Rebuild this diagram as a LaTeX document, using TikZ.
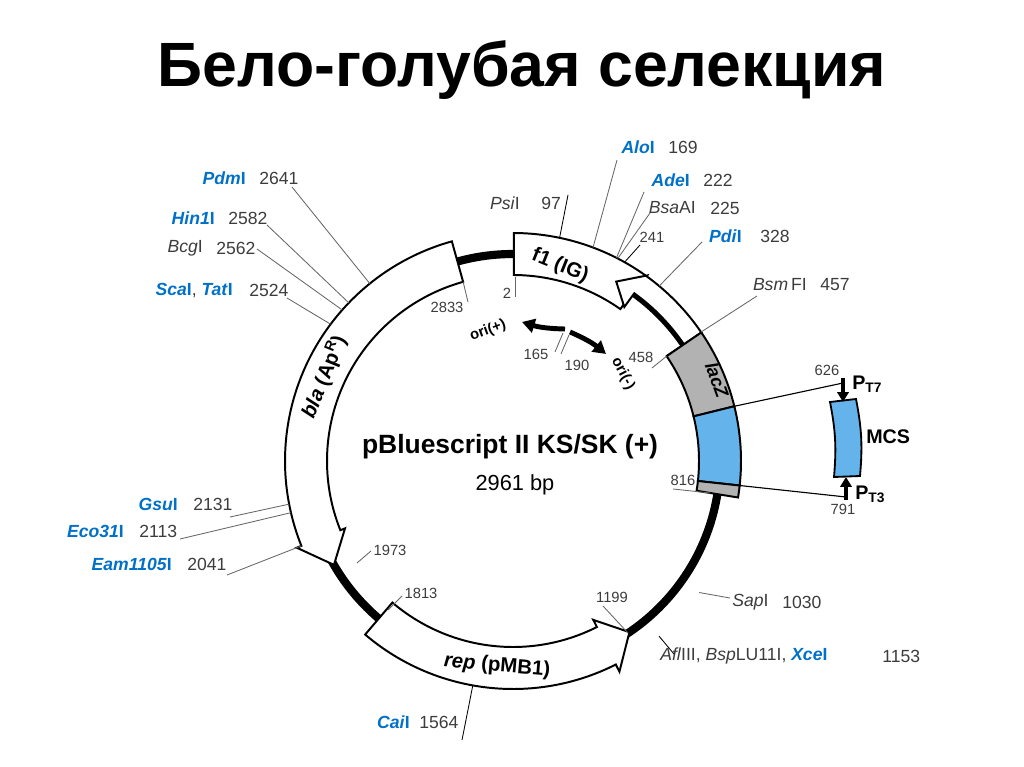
\documentclass[tikz,border=0pt]{standalone}
\usepackage{fontspec}
\setmainfont{Liberation Sans}
\usetikzlibrary{arrows.meta}
\definecolor{blu}{RGB}{0,112,200}
\definecolor{mcsblue}{RGB}{100,180,235}
\definecolor{gr}{RGB}{60,60,60}
\newcommand{\bn}[1]{{\color{blu}\bfseries\textit{#1}I}}
\newcommand{\gn}[1]{{\color{gr}\textit{#1}I}}
\pgfmathdeclarefunction{ang}{1}{\pgfmathparse{#1*0.121581-90}}
\tikzset{
 lbl/.style={font=\fontsize{12.5}{13}\selectfont, inner sep=0pt, text=gr},
 sm/.style={font=\fontsize{10.5}{11}\selectfont, inner sep=0pt, text=gr},
 ln/.style={line width=0.6pt, gray!80!black},
 band/.style={draw=black, line width=1.4pt, fill=white, line join=miter},
 feat/.style={font=\bfseries\fontsize{14.5}{15}\selectfont, inner sep=0pt},
}
\begin{document}
\begin{tikzpicture}[x=0.025cm,y=-0.025cm]
\useasboundingbox (0,0) rectangle (1024,767);
\node[font=\bfseries\fontsize{44.5}{48}\selectfont] (title) at (522,70) {Бело-голубая селекция};
\begin{scope}[shift={(513,461)}]
 \draw[line width=5.8pt] (0,0) circle (207);
 % bla
 \draw[band] ({ang(2833)}:228) arc[start angle={ang(2833)}, end angle={ang(2041)}, radius=228]
   -- ({ang(2041)}:233) -- ({ang(1973)}:207) -- ({ang(2041)}:181) -- ({ang(2041)}:186)
   arc[start angle={ang(2041)}, end angle={ang(2833)}, radius=186] -- cycle;
 % rep
 \draw[band] ({ang(1813)}:228) arc[start angle={ang(1813)}, end angle={ang(1260)}, radius=228]
   -- ({ang(1260)}:236) -- ({ang(1199)}:207) -- ({ang(1260)}:178) -- ({ang(1260)}:186)
   arc[start angle={ang(1260)}, end angle={ang(1813)}, radius=186] -- cycle;
 % f1 box
 \draw[band] ({ang(2)}:228) arc[start angle={ang(2)}, end angle={ang(290)}, radius=228]
   -- ({ang(290)}:186) arc[start angle={ang(290)}, end angle={ang(2)}, radius=186] -- cycle;
 % arrow inside f1 region
 \draw[band] ({ang(458)}:228) arc[start angle={ang(458)}, end angle={ang(295)}, radius=228]
   -- ({ang(295)}:229) -- ({ang(246)}:207) -- ({ang(295)}:190) -- ({ang(295)}:207)
   arc[start angle={ang(295)}, end angle={ang(458)}, radius=207] -- cycle;
 \draw[line width=1.4pt] ({ang(458)}:186) -- ({ang(458)}:207);
 % lacZ / MCS
 \draw[band, fill=gray!60] ({ang(458)}:228) arc[start angle={ang(458)}, end angle={ang(626)}, radius=228]
   -- ({ang(626)}:186) arc[start angle={ang(626)}, end angle={ang(458)}, radius=186] -- cycle;
 \draw[band, fill=mcsblue] ({ang(626)}:228) arc[start angle={ang(626)}, end angle={ang(791)}, radius=228]
   -- ({ang(791)}:186) arc[start angle={ang(791)}, end angle={ang(626)}, radius=186] -- cycle;
 \draw[band, fill=gray!60] ({ang(791)}:228) arc[start angle={ang(791)}, end angle={ang(816)}, radius=228]
   -- ({ang(816)}:186) arc[start angle={ang(816)}, end angle={ang(791)}, radius=186] -- cycle;
 % circle points for label lines
 \foreach \p/\n in {2641/cPdm,2582/cHin,2562/cBcg,2524/cSca,2131/cGsu,2113/cEco,2041/cEam,
   97/cPsi,169/cAlo,222/cAde,225/cBsa,241/c241,328/cPdi,457/cBsm,1030/cSap,1153/cAfl,1564/cCai}
   \coordinate (\n) at ({ang(\p)}:228);
 \coordinate (i2833) at ({ang(2833)}:186);
 \coordinate (i458) at ({ang(458)}:186);
 \coordinate (i626) at ({ang(626)}:228);
 \coordinate (i791) at ({ang(791)}:228);
 \coordinate (i816) at ({ang(816)}:200);
\end{scope}
% feature labels
\node[feat, rotate=-22] (f1) at (560,266) {f1 (IG)};
\node[feat, rotate=68] (bla) at (324,377) {\textit{bla} (Ap\textsuperscript{R})};
\node[feat, rotate=-5] (rep) at (497,666) {\textit{rep} (pMB1)};
\node[feat, rotate=-70, font=\bfseries\itshape\fontsize{13}{14}\selectfont] (lac) at (717,380) {lacZ};
\node[font=\bfseries\fontsize{18.8}{20}\selectfont] (nm) at (510,447) {pBluescript II KS/SK (+)};
\node[font=\fontsize{15.5}{16}\selectfont] (bp) at (515,485) {2961 bp};
% outer labels
\node[lbl, anchor=east] (tPdm) at (246,178) {\bn{Pdm}}; \node[lbl, anchor=west] (nPdm) at (259,178) {2641};
\node[lbl, anchor=east] (tHin) at (215,218) {\bn{Hin1}}; \node[lbl, anchor=west] (nHin) at (228,218) {2582};
\node[lbl, anchor=east] (tBcg) at (203,248) {\gn{Bcg}}; \node[lbl, anchor=west] (nBcg) at (216,248) {2562};
\node[lbl, anchor=east] (tSca) at (233,290) {\bn{Sca}, \bn{Tat}}; \node[lbl, anchor=west] (nSca) at (249,290) {2524};
\node[lbl, anchor=east] (tGsu) at (178,504) {\bn{Gsu}}; \node[lbl, anchor=west] (nGsu) at (193,504) {2131};
\node[lbl, anchor=east] (tEco) at (124,531) {\bn{Eco31}}; \node[lbl, anchor=west] (nEco) at (139,531) {2113};
\node[lbl, anchor=east] (tEam) at (172,564) {\bn{Eam1105}}; \node[lbl, anchor=west] (nEam) at (187,564) {2041};
\node[lbl, anchor=east] (tPsi) at (520,203) {\gn{Psi}}; \node[lbl, anchor=west] (nPsi) at (541,203) {97};
\node[lbl, anchor=east] (tAlo) at (655,147) {\bn{Alo}}; \node[lbl, anchor=west] (nAlo) at (668,147) {169};
\node[lbl, anchor=east] (tAde) at (690,180) {\bn{Ade}}; \node[lbl, anchor=west] (nAde) at (703,180) {222};
\node[lbl, anchor=east] (tBsa) at (696,208) {\textit{\color{gr}Bsa}{\color{gr}AI}}; \node[lbl, anchor=west] (nBsa) at (710,208) {225};
\node[sm] (t241) at (652,237) {241};
\node[lbl, anchor=east] (tPdi) at (742,236) {\bn{Pdi}}; \node[lbl, anchor=west] (nPdi) at (760,236) {328};
\node[lbl, anchor=east] (tBsm) at (807,285) {\textit{\color{gr}Bsm}\,{\color{gr}FI}}; \node[lbl, anchor=west] (nBsm) at (820,285) {457};
\node[lbl, anchor=west] (tSap) at (732,602) {\gn{Sap}}; \node[lbl, anchor=west] (nSap) at (782,602) {1030};
\node[lbl, anchor=west] (tAfl) at (660,656) {\textit{Afl}III, \textit{Bsp}LU11I, \bn{Xce}}; \node[lbl, anchor=west] (nAfl) at (882,656) {1153};
\node[lbl, anchor=east] (tCai) at (410,722) {\bn{Cai}}; \node[lbl, anchor=west] (nCai) at (419,722) {1564};
% label lines
\draw[ln] (292,187) -- (cPdm);
\draw[ln] (267,225) -- (cHin);
\draw[ln] (257,249) -- (cBcg);
\draw[ln] (287,298) -- (cSca);
\draw[ln] (230,517) -- (cGsu);
\draw[ln] (180,539) -- (cEco);
\draw[ln] (227,575) -- (cEam);
\draw[ln, black] (568,195) -- (cPsi);
\draw[ln] (617,160) -- (cAlo);
\draw[ln] (644,192) -- (cAde);
\draw[ln] (650,213) -- (cBsa);
\draw[ln, black] (640,245) -- (c241);
\draw[ln] (702,242) -- (cPdi);
\draw[ln] (757,296) -- (cBsm);
\draw[ln] (730,598) -- (cSap);
\draw[ln, black] (674,654) -- (cAfl);
\draw[ln, black] (462,740) -- (cCai);
% inner labels
\node[sm] (l2833) at (447,307) {2833}; \draw[ln] (i2833) -- (468,302);
\node[sm] (l2) at (507,293) {2}; \draw[ln] (515,277) -- (515,297);
\node[sm] (l458) at (641,357) {458}; \draw[ln] (i458) -- (652,368);
\node[sm] (l1973) at (390,550) {1973}; \draw[ln] (357,563) -- (371,551);
\node[sm] (l1813) at (421,593) {1813}; \draw[ln] (388,610) -- (402,596);
\node[sm] (l1199) at (612,597) {1199}; \draw[ln] (603,606) -- (628,633);
\node[sm] (l816) at (683,480) {816}; \draw[ln] (673,489) -- (i816);
\node[sm] (l165) at (536,354) {165}; \draw[ln] (563,333) -- (555,352);
\node[sm] (l190) at (577,365) {190}; \draw[ln] (569,335) -- (561,354);
% ori arrows
\draw[line width=3.5pt, -{Triangle[length=9pt,width=10pt]}] (565,329) to[bend left=8] (522,322);
\draw[line width=3.5pt, -{Triangle[length=9pt,width=10pt]}] (570,332) to[bend left=8] (606,354);
\node[font=\bfseries\fontsize{10.5}{11}\selectfont, rotate=20] (orip) at (488,331) {ori(+)};
\node[font=\bfseries\fontsize{10.5}{11}\selectfont, rotate=-62] (orim) at (623,374) {ori(-)};
% MCS
\draw[line width=1.3pt, fill=mcsblue] (830,402) -- (856,399) to[bend left=8] (860,476) -- (834,477) to[bend right=8] cycle;
\coordinate (t7) at (843,383);
\coordinate (t3) at (846,497);
\draw[line width=0.8pt] (i626) -- (t7);
\draw[line width=0.8pt] (i791) -- (t3);
\draw[line width=3pt, -{Triangle[length=7pt,width=8pt]}] (843,378) -- (843,402);
\draw[line width=3pt, -{Triangle[length=7pt,width=8pt]}] (846,500) -- (846,477);
\node[sm] (l626) at (827,370) {626};
\node[sm] (l791) at (843,509) {791};
\node[font=\bfseries\fontsize{14}{15}\selectfont, anchor=west, inner sep=0pt] (pt7) at (852,384) {P\textsubscript{T7}};
\node[font=\bfseries\fontsize{14}{15}\selectfont, anchor=west, inner sep=0pt] (pt3) at (855,494) {P\textsubscript{T3}};
\node[font=\bfseries\fontsize{14}{15}\selectfont, anchor=west, inner sep=0pt] (mcs) at (866,437) {MCS};
\end{tikzpicture}
\end{document}
